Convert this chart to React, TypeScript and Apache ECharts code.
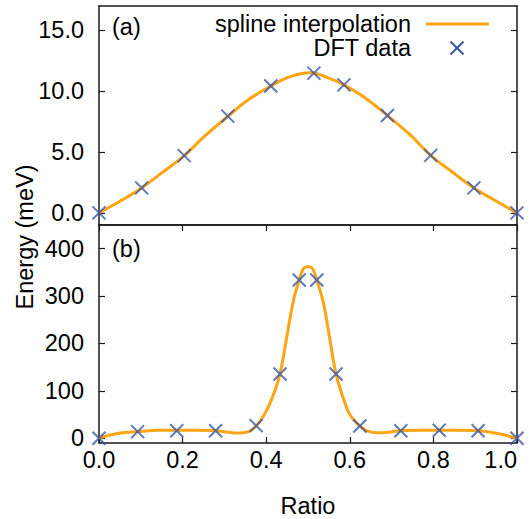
import React, { useEffect, useRef } from 'react';
import * as echarts from 'echarts';

// Panel (a): DFT data
const topDftX = [0, 0.102, 0.204, 0.308, 0.411, 0.514, 0.586, 0.69, 0.7935, 0.897, 1.0];
const topDftY = [0, 2.05, 4.7, 7.95, 10.43, 11.48, 10.52, 8.0, 4.72, 2.05, 0];
// Panel (a): spline curve
const topSplineX = [0, 0.05, 0.102, 0.15, 0.204, 0.254, 0.308, 0.357, 0.411, 0.457, 0.505, 0.55, 0.586, 0.632, 0.69, 0.744, 0.7935, 0.848, 0.897, 0.951, 1.0];
const topSplineY = [0, 0.95, 2.05, 3.28, 4.7, 6.34, 7.92, 9.29, 10.43, 11.2, 11.52, 11.07, 10.52, 9.56, 8.0, 6.42, 4.72, 3.28, 2.05, 0.95, 0];

// Panel (b): DFT data
const botDftX = [0, 0.0925, 0.186, 0.279, 0.376, 0.433, 0.479, 0.521, 0.567, 0.624, 0.722, 0.814, 0.907, 1.0];
const botDftY = [0, 14, 16, 16, 26.6, 135.7, 334, 334, 135.7, 26, 16, 16.8, 16, 0];
// Panel (b): spline curve
const botSplineX = [0, 0.038, 0.0925, 0.142, 0.186, 0.23, 0.279, 0.309, 0.333, 0.357, 0.376, 0.397, 0.417, 0.433, 0.449, 0.465, 0.479, 0.489, 0.5, 0.511, 0.521, 0.537, 0.553, 0.567, 0.584, 0.6, 0.624, 0.643, 0.667, 0.691, 0.722, 0.77, 0.814, 0.858, 0.907, 0.951, 1.0];
const botSplineY = [0, 9, 14, 16.8, 16.8, 16.8, 16, 12.6, 11, 14, 26, 52, 91, 136, 212, 290, 334, 358, 362, 358, 334, 285, 205, 136, 86, 50, 26, 15, 11.5, 12.6, 16, 16.8, 16.8, 16.8, 16, 10.5, 0];

// Tick values
const topYTicks = [0, 5, 10, 15];
const botYTicks = [0, 100, 200, 300, 400];

const FONT = '"Liberation Sans", Arial, Helvetica, sans-serif';
const FS = 23.5;
const ORANGE = '#ffa514';
const BLUE = '#3a56a6';
const AXIS = '#1a1a1a';

const pairs = (xs: number[], ys: number[]) => xs.map((x, i) => [x, ys[i]]);

const CROSS = 'path://M0,0L10,10M10,0L0,10';

function buildOption() {
  const line = { show: true, onZero: false, lineStyle: { color: AXIS, width: 1.5 } };
  const noLabel = { show: false };
  const grids = [
    { left: 99, right: 15, top: 6, height: 219 },
    { left: 99, right: 15, top: 225, height: 219 },
  ];
  const xAxis: any[] = [
    { gridIndex: 0, type: 'value', position: 'bottom', min: 0, max: 1, axisLine: line, axisTick: { show: false }, axisLabel: noLabel, splitLine: { show: false } },
    { gridIndex: 0, type: 'value', position: 'top', min: 0, max: 1, axisLine: line, axisTick: { show: false }, axisLabel: noLabel, splitLine: { show: false } },
    {
      gridIndex: 1, type: 'value', position: 'bottom', min: 0, max: 1, interval: 0.2,
      axisLine: line,
      axisTick: { show: true, inside: true, length: 6, lineStyle: { color: AXIS, width: 1.2 } },
      axisLabel: { show: true, margin: 5, fontSize: FS, fontFamily: FONT, color: '#000', formatter: (v: number) => v.toFixed(1), alignMaxLabel: 'right' },
      splitLine: { show: false },
      name: 'Ratio', nameLocation: 'middle', nameGap: 51,
      nameTextStyle: { fontSize: FS, fontFamily: FONT, color: '#000' },
    },
    {
      gridIndex: 1, type: 'value', position: 'top', min: 0, max: 1, interval: 0.2,
      axisLine: line,
      axisTick: { show: true, inside: true, length: 6, lineStyle: { color: AXIS, width: 1.2 } },
      axisLabel: noLabel, splitLine: { show: false },
    },
  ];
  const yAxis: any[] = [
    {
      gridIndex: 0, type: 'value', position: 'left', min: -1, max: 17,
      axisLine: line,
      axisTick: { show: true, inside: true, length: 6, customValues: topYTicks, lineStyle: { color: AXIS, width: 1.2 } },
      axisLabel: { show: true, customValues: topYTicks, margin: 15, fontSize: FS, fontFamily: FONT, color: '#000', formatter: (v: number) => v.toFixed(1) },
      splitLine: { show: false },
    },
    {
      gridIndex: 0, type: 'value', position: 'right', min: -1, max: 17,
      axisLine: line,
      axisTick: { show: true, inside: true, length: 6, customValues: topYTicks, lineStyle: { color: AXIS, width: 1.2 } },
      axisLabel: noLabel, splitLine: { show: false },
    },
    {
      gridIndex: 1, type: 'value', position: 'left', min: -10, max: 450,
      axisLine: line,
      axisTick: { show: true, inside: true, length: 6, customValues: botYTicks, lineStyle: { color: AXIS, width: 1.2 } },
      axisLabel: { show: true, customValues: botYTicks, margin: 15, fontSize: FS, fontFamily: FONT, color: '#000' },
      splitLine: { show: false },
    },
    {
      gridIndex: 1, type: 'value', position: 'right', min: -10, max: 450,
      axisLine: line,
      axisTick: { show: true, inside: true, length: 6, customValues: botYTicks, lineStyle: { color: AXIS, width: 1.2 } },
      axisLabel: noLabel, splitLine: { show: false },
    },
  ];

  const splineStyle = { color: ORANGE, width: 3 };
  const crossStyle = { color: 'rgba(0,0,0,0)', borderColor: BLUE, borderWidth: 2 };

  const series: any[] = [
    { type: 'line', name: 'spline interpolation', xAxisIndex: 0, yAxisIndex: 0, data: pairs(topSplineX, topSplineY), smooth: 0.4, showSymbol: false, lineStyle: splineStyle, itemStyle: { color: ORANGE }, z: 2 },
    { type: 'scatter', name: 'DFT data', xAxisIndex: 0, yAxisIndex: 0, data: pairs(topDftX, topDftY), symbol: CROSS, symbolSize: 13, itemStyle: crossStyle, clip: false, z: 3 },
    { type: 'line', name: 'spline interpolation', xAxisIndex: 2, yAxisIndex: 2, data: pairs(botSplineX, botSplineY), smooth: 0.4, showSymbol: false, lineStyle: splineStyle, itemStyle: { color: ORANGE }, z: 2 },
    { type: 'scatter', name: 'DFT data', xAxisIndex: 2, yAxisIndex: 2, data: pairs(botDftX, botDftY), symbol: CROSS, symbolSize: 13, itemStyle: crossStyle, clip: false, z: 3 },
  ];

  const txt = (text: string, x: number, y: number, align: string, extra: any = {}) => ({
    type: 'text', x, y, ...extra,
    style: { text, font: `${FS}px ${FONT}`, fill: '#000', align, textAlign: align, verticalAlign: 'middle', textVerticalAlign: 'middle' },
  });

  const graphic: any[] = [
    txt('(a)', 112, 27, 'left'),
    txt('(b)', 112, 249, 'left'),
    txt('spline interpolation', 411, 24, 'right'),
    txt('DFT data', 411, 48, 'right'),
    { type: 'line', shape: { x1: 426, y1: 24, x2: 489, y2: 24 }, style: { stroke: ORANGE, lineWidth: 3 } },
    { type: 'line', shape: { x1: 450.5, y1: 41.5, x2: 463.5, y2: 54.5 }, style: { stroke: BLUE, lineWidth: 2 } },
    { type: 'line', shape: { x1: 463.5, y1: 41.5, x2: 450.5, y2: 54.5 }, style: { stroke: BLUE, lineWidth: 2 } },
    txt('Energy (meV)', 25, 237, 'center', { rotation: Math.PI / 2 }),
  ];

  return {
    animation: false,
    backgroundColor: '#ffffff',
    grid: grids,
    xAxis,
    yAxis,
    series,
    graphic,
  };
}

export default function App() {
  const ref = useRef<HTMLDivElement>(null);
  useEffect(() => {
    document.body.style.margin = '0';
    const chart = echarts.init(ref.current as HTMLDivElement, null, { renderer: 'svg' });
    chart.setOption(buildOption() as any);
    return () => chart.dispose();
  }, []);
  return <div ref={ref} style={{ position: 'absolute', left: 0, top: 0, width: 532, height: 519 }} />;
}
